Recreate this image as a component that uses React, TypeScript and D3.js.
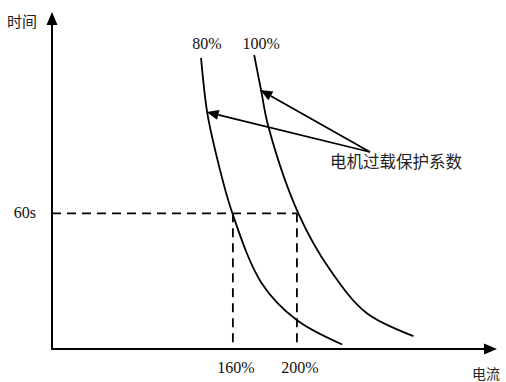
import React from "react";
import * as d3 from "d3";

// Data (current in %, time in seconds)
const curve80: [number, number][] = [
  [140.1, 128.7], [143.9, 104.8], [148.9, 88.0], [159.7, 60.0], [178.1, 29.0], [199.9, 12.8], [228.3, 2.0],
];
const curve100: [number, number][] = [
  [173.3, 130.0], [177.6, 114.5], [182.2, 98.3], [200.9, 60.0], [220.8, 34.9], [243.7, 15.8], [272.8, 5.7],
];
const curveLabels = ["80%", "100%"];
const xTicks = [160, 200];
const xTickLabels = ["160%", "200%"];
const yTicks = [60];
const yTickLabels = ["60s"];
const annotation = "电机过载保护系数";
const arrowTargets: [number, number][] = [[143.6, 104.8], [177.2, 114.5]];
const yAxisLabel = "时间";
const xAxisLabel = "电流";

const W = 506, H = 382;
const x = d3.scaleLinear().domain([47, 325]).range([52, 497]);
const y = d3.scaleLinear().domain([0, 149]).range([349, 12]);

const line = d3.line<[number, number]>()
  .x(d => x(d[0]))
  .y(d => y(d[1]))
  .curve(d3.curveCatmullRom.alpha(0.5));

const serif = "Liberation Serif";
const cjk = "Noto Sans CJK SC";

export default function App() {
  const [x0, x1] = x.range();
  const [y0, y1] = y.range();
  const annX = 370, annY = 152;
  const arrow = (tx: number, ty: number, key: number) => {
    const dx = tx - annX, dy = ty - annY;
    const len = Math.hypot(dx, dy);
    const ux = dx / len, uy = dy / len;
    const hl = 12, hw = 5;
    const bx = tx - ux * hl, by = ty - uy * hl;
    const px = -uy, py = ux;
    return (
      <g key={key}>
        <line x1={annX} y1={annY} x2={bx} y2={by} stroke="#000" strokeWidth={1.8} />
        <polygon points={`${tx},${ty} ${bx + px * hw},${by + py * hw} ${bx - px * hw},${by - py * hw}`} fill="#000" />
      </g>
    );
  };
  return (
    <svg width={W} height={H} style={{ position: "absolute", left: 0, top: 0, background: "#fff" }}>
      <rect width={W} height={H} fill="#fff" />
      {/* axes */}
      <line x1={x0} y1={y0} x2={x0} y2={y1 + 10} stroke="#000" strokeWidth={2} />
      <polygon points={`${x0},${y1} ${x0 - 5.5},${y1 + 13} ${x0 + 5.5},${y1 + 13}`} fill="#000" />
      <line x1={x0 - 1} y1={y0} x2={x1 - 10} y2={y0} stroke="#000" strokeWidth={2} />
      <polygon points={`${x1},${y0} ${x1 - 13},${y0 - 5.5} ${x1 - 13},${y0 + 5.5}`} fill="#000" />
      <text x={7} y={27} fontFamily={cjk} fontSize={15} fill="#222">{yAxisLabel}</text>
      <text x={472} y={379} fontFamily={cjk} fontSize={14} fill="#222">{xAxisLabel}</text>
      {/* dashed guides */}
      <line x1={x0} y1={y(yTicks[0])} x2={x(xTicks[1])} y2={y(yTicks[0])} stroke="#000" strokeWidth={1.8} strokeDasharray="9,6" />
      {xTicks.map((t, i) => (
        <line key={i} x1={x(t)} y1={y(yTicks[0])} x2={x(t)} y2={y0} stroke="#000" strokeWidth={1.8} strokeDasharray="9,6" />
      ))}
      {xTicks.map((t, i) => (
        <text key={i} x={x(t) + 3} y={373} textAnchor="middle" fontFamily={serif} fontSize={16} fill="#111">{xTickLabels[i]}</text>
      ))}
      {yTicks.map((t, i) => (
        <text key={i} x={36} y={y(t) + 5} textAnchor="end" fontFamily={serif} fontSize={16} fill="#111">{yTickLabels[i]}</text>
      ))}
      {/* curves */}
      <path d={line(curve80) || ""} fill="none" stroke="#000" strokeWidth={1.8} />
      <path d={line(curve100) || ""} fill="none" stroke="#000" strokeWidth={1.8} />
      <text x={x(curve80[0][0]) + 6} y={49} textAnchor="middle" fontFamily={serif} fontSize={16} fill="#111">{curveLabels[0]}</text>
      <text x={x(curve100[0][0]) + 7} y={49} textAnchor="middle" fontFamily={serif} fontSize={16} fill="#111">{curveLabels[1]}</text>
      {/* annotation */}
      {arrowTargets.map((p, i) => arrow(x(p[0]), y(p[1]), i))}
      <text x={330} y={168} fontFamily={cjk} fontSize={16.5} fill="#222">{annotation}</text>
    </svg>
  );
}
